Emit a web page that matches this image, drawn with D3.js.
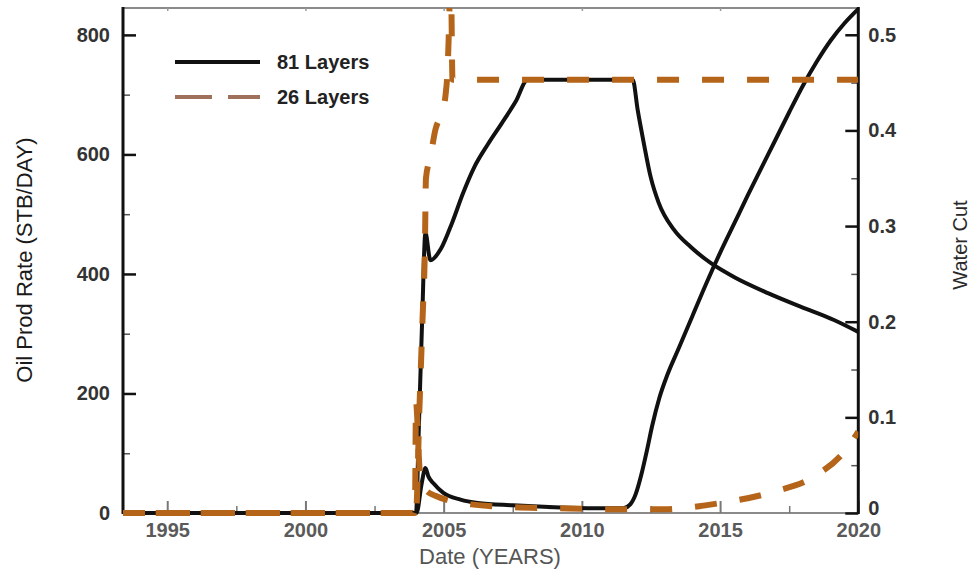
<!DOCTYPE html>
<html>
<head>
<meta charset="utf-8">
<script src="https://cdn.jsdelivr.net/npm/d3@7"></script>
<style>
  body { margin: 0; background: #fff; }
  svg { display: block; }
  text { font-family: "Liberation Sans", Arial, sans-serif; }
</style>
</head>
<body>
<svg id="chart" width="975" height="572"></svg>
<script>
// Oil production rate (STB/DAY) by date, 81-layer model
const oil81 = [
  [1993.4, 0], [2004.0, 0], [2004.1, 140], [2004.22, 320], [2004.34, 469],
  [2004.52, 423], [2004.9, 442], [2005.3, 485], [2005.7, 535], [2006.1, 578],
  [2006.6, 617], [2007.1, 652], [2007.6, 688], [2008.04, 725], [2011.84, 725],
  [2012.02, 674], [2012.24, 619], [2012.49, 562], [2012.78, 519], [2013.33, 474],
  [2013.94, 445], [2014.67, 418], [2015.5, 395], [2016.73, 368], [2017.93, 345],
  [2019.12, 323], [2020.0, 303]
];
// Oil production rate (STB/DAY) by date, 26-layer model
const oil26 = [
  [1993.4, 0], [2004.0, 0], [2004.12, 170], [2004.24, 330], [2004.32, 440],
  [2004.36, 560], [2004.52, 596], [2004.7, 641], [2004.96, 674], [2005.07, 700],
  [2005.14, 741], [2005.18, 792], [2005.21, 845], [2005.25, 950], [2005.28, 850],
  [2005.32, 725], [2020.0, 725]
];
// Water cut (fraction) by date, 81-layer model
const wcut81 = [
  [1993.4, 0], [2004.02, 0], [2004.2, 0.03], [2004.34, 0.047], [2004.45, 0.038],
  [2004.63, 0.031], [2004.99, 0.021], [2005.61, 0.014], [2006.23, 0.0105], [2007.5, 0.008],
  [2009.0, 0.006], [2010.5, 0.005], [2011.5, 0.005], [2011.75, 0.009], [2011.95, 0.02],
  [2012.15, 0.04], [2012.35, 0.065], [2012.55, 0.092], [2012.8, 0.12], [2013.1, 0.145],
  [2013.5, 0.172], [2014.0, 0.206], [2014.5, 0.24], [2015.0, 0.272], [2015.5, 0.302],
  [2016.0, 0.332], [2016.5, 0.361], [2017.0, 0.39], [2017.5, 0.419], [2018.0, 0.447],
  [2018.5, 0.472], [2019.0, 0.494], [2019.5, 0.512], [2020.0, 0.527]
];
// Water cut (fraction) by date, 26-layer model
const wcut26 = [
  [1993.4, 0], [2003.96, 0], [2004.0, 0.116], [2004.06, 0.09], [2004.1, 0.06],
  [2004.2, 0.03], [2004.35, 0.024], [2004.7, 0.018], [2005.2, 0.013], [2006.0, 0.009],
  [2007.5, 0.006], [2009.0, 0.005], [2011.0, 0.004], [2013.0, 0.004], [2013.58, 0.005],
  [2015.03, 0.0105], [2016.91, 0.022], [2018.4, 0.038], [2019.63, 0.069], [2020.0, 0.085]
];

const yearTicks = [1995, 2000, 2005, 2010, 2015, 2020];
const yearMinorTicks = [1997.5, 2002.5, 2007.5, 2012.5, 2017.5];
const rateTicks = [0, 200, 400, 600, 800];
const rateMinorTicks = [100, 300, 500, 700];
const cutTicks = [0, 0.1, 0.2, 0.3, 0.4, 0.5];
const cutMinorTicks = [0.05, 0.15, 0.25, 0.35, 0.45];
const seriesNames = ["81 Layers", "26 Layers"];

const svg = d3.select("#chart");
const plotL = 123, plotR = 858.3, plotT = 8, plotB = 513;
const BROWN = "#b5651a";
const INK = "#111";

const x = d3.scaleLinear().domain([1993.4, 2020]).range([plotL, plotR]);
const yRate = d3.scaleLinear().domain([0, 845]).range([plotB, plotT]);
const yCut = d3.scaleLinear().domain([0, 0.528]).range([plotB, plotT]);

// clip above the top frame; leave room below so the zero lines show in full
svg.append("defs").append("clipPath").attr("id", "plot-clip")
  .append("rect").attr("x", plotL).attr("y", plotT)
  .attr("width", plotR - plotL).attr("height", plotB - plotT + 4);

// frame: gray top/bottom, black left/right
svg.append("line").attr("x1", plotL).attr("x2", plotR).attr("y1", plotT).attr("y2", plotT)
  .attr("stroke", "#8a8a8a").attr("stroke-width", 2);
svg.append("line").attr("x1", plotL).attr("x2", plotR).attr("y1", plotB).attr("y2", plotB)
  .attr("stroke", "#8a8a8a").attr("stroke-width", 2);

function styleAxis(g, color, width) {
  g.select(".domain").remove();
  g.selectAll(".tick line").attr("stroke", color).attr("stroke-width", width);
}

// bottom axis
const gx = svg.append("g").attr("transform", `translate(0,${plotB})`)
  .call(d3.axisBottom(x).tickValues(yearTicks).tickSize(-12).tickPadding(10).tickFormat(d3.format("d")));
styleAxis(gx, "#777", 2);
gx.selectAll("text").attr("font-size", 20).attr("font-weight", "bold").attr("fill", "#5a5a5a");
const gxm = svg.append("g").attr("transform", `translate(0,${plotB})`)
  .call(d3.axisBottom(x).tickValues(yearMinorTicks).tickSize(-7).tickFormat(""));
styleAxis(gxm, "#777", 1.5);

// top axis marks
const gt = svg.append("g").attr("transform", `translate(0,${plotT})`)
  .call(d3.axisTop(x).tickValues(yearTicks).tickSize(-3).tickFormat(""));
styleAxis(gt, "#999", 1.5);

// left axis (oil rate)
const gl = svg.append("g").attr("transform", `translate(${plotL},0)`)
  .call(d3.axisLeft(yRate).tickValues(rateTicks).tickSize(-13).tickPadding(13));
styleAxis(gl, INK, 2.5);
gl.selectAll("text").attr("font-size", 20).attr("font-weight", "bold").attr("fill", "#333");
const glm = svg.append("g").attr("transform", `translate(${plotL},0)`)
  .call(d3.axisLeft(yRate).tickValues(rateMinorTicks).tickSize(-7).tickFormat(""));
styleAxis(glm, "#555", 1.5);

// right axis (water cut)
const gr = svg.append("g").attr("transform", `translate(${plotR},0)`)
  .call(d3.axisRight(yCut).tickValues(cutTicks).tickSize(-13).tickPadding(10)
    .tickFormat(d => d === 0 ? "0" : d3.format(".1f")(d)));
styleAxis(gr, INK, 2.5);
gr.selectAll("text").attr("font-size", 20).attr("font-weight", "bold").attr("fill", "#333");
// lift the zero label clear of the year label below it
gr.selectAll(".tick").filter(d => d === 0).select("text").attr("dy", "0.05em");
const grm = svg.append("g").attr("transform", `translate(${plotR},0)`)
  .call(d3.axisRight(yCut).tickValues(cutMinorTicks).tickSize(-7).tickFormat(""));
styleAxis(grm, "#555", 1.5);

svg.append("line").attr("x1", plotL).attr("x2", plotL).attr("y1", plotT - 1).attr("y2", plotB + 1)
  .attr("stroke", INK).attr("stroke-width", 3);
svg.append("line").attr("x1", plotR).attr("x2", plotR).attr("y1", plotT - 1).attr("y2", plotB + 1)
  .attr("stroke", INK).attr("stroke-width", 3);

// series
const plot = svg.append("g").attr("clip-path", "url(#plot-clip)");
const rateLine = d3.line().x(d => x(d[0])).y(d => yRate(d[1])).curve(d3.curveMonotoneX);
const cutLine = d3.line().x(d => x(d[0])).y(d => yCut(d[1])).curve(d3.curveMonotoneX);

plot.append("path").datum(oil81).attr("d", rateLine)
  .attr("fill", "none").attr("stroke", INK).attr("stroke-width", 4).attr("stroke-linejoin", "round");
plot.append("path").datum(wcut81).attr("d", cutLine)
  .attr("fill", "none").attr("stroke", INK).attr("stroke-width", 4).attr("stroke-linejoin", "round");

const DASH = 22, GAP = 23;
const oil26Path = plot.append("path").datum(oil26).attr("d", rateLine)
  .attr("fill", "none").attr("stroke", BROWN).attr("stroke-width", 6)
  .attr("stroke-dasharray", `${DASH},${GAP}`);
// start a dash at x = 477 on the level stretch
{
  const total = oil26Path.node().getTotalLength();
  const at = total - (plotR - 477);
  const period = DASH + GAP;
  oil26Path.attr("stroke-dashoffset", (period - (at % period)) % period);
}
plot.append("path").datum(wcut26).attr("d", cutLine)
  .attr("fill", "none").attr("stroke", BROWN).attr("stroke-width", 6)
  .attr("stroke-dasharray", `${DASH},${GAP}`);

// legend
const legend = svg.append("g");
legend.append("line").attr("x1", 175).attr("x2", 260).attr("y1", 62).attr("y2", 62)
  .attr("stroke", INK).attr("stroke-width", 4);
legend.append("line").attr("x1", 175).attr("x2", 260).attr("y1", 97).attr("y2", 97)
  .attr("stroke", "#a0715a").attr("stroke-width", 4).attr("stroke-dasharray", "37,16");
legend.selectAll("text.lg").data(seriesNames).join("text").attr("class", "lg")
  .attr("x", 277).attr("y", (d, i) => 62 + i * 35).attr("dy", "0.35em")
  .attr("font-size", 20).attr("font-weight", "bold").attr("fill", "#222").text(d => d);

// axis titles
svg.append("text").attr("transform", "translate(32,260) rotate(-90)")
  .attr("text-anchor", "middle").attr("font-size", 22).attr("fill", "#1a1a1a")
  .text("Oil Prod Rate (STB/DAY)");
svg.append("text").attr("transform", "translate(967,245) rotate(-90)")
  .attr("text-anchor", "middle").attr("font-size", 20).attr("fill", "#2a2a2a")
  .text("Water Cut");
svg.append("text").attr("x", 490).attr("y", 564)
  .attr("text-anchor", "middle").attr("font-size", 22).attr("fill", "#555")
  .text("Date (YEARS)");
</script>
</body>
</html>
